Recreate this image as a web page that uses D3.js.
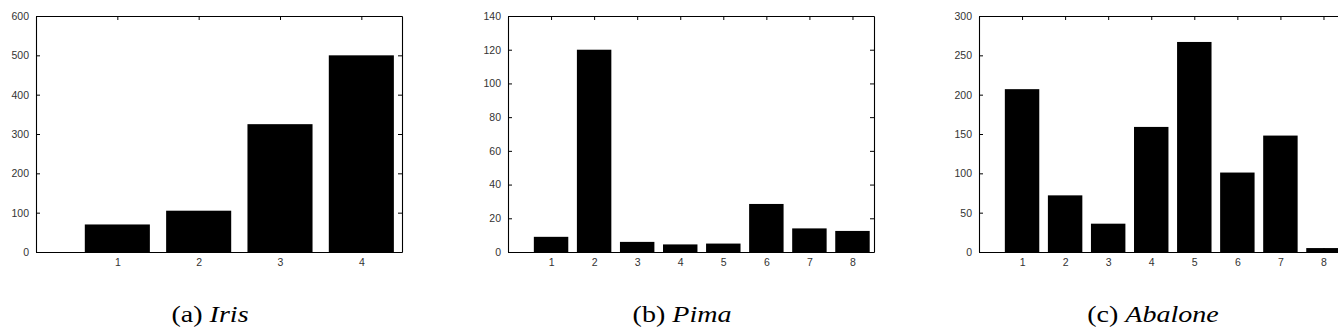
<!DOCTYPE html>
<html>
<head>
<meta charset="utf-8">
<script src="https://cdn.jsdelivr.net/npm/d3@7"></script>
<style>
  html, body { margin: 0; padding: 0; background: #fff; }
  svg { display: block; }
</style>
</head>
<body>
<svg id="chart" width="1338" height="327"></svg>
<script>
// ---- data ----
const irisCategories = [1, 2, 3, 4];
const irisValues = [70, 105, 325, 500];
const irisYTicks = [0, 100, 200, 300, 400, 500, 600];

const pimaCategories = [1, 2, 3, 4, 5, 6, 7, 8];
const pimaValues = [9, 120, 6, 4.5, 5, 28.5, 14, 12.5];
const pimaYTicks = [0, 20, 40, 60, 80, 100, 120, 140];

const abaloneCategories = [1, 2, 3, 4, 5, 6, 7, 8];
const abaloneValues = [207, 72, 36, 159, 267, 101, 148, 5];
const abaloneYTicks = [0, 50, 100, 150, 200, 250, 300];

const captionLetters = ["(a)", "(b)", "(c)"];
const captionNames = ["Iris", "Pima", "Abalone"];

// ---- layout ----
const panels = [
  { left: 36,  cats: irisCategories,    vals: irisValues,    yTicks: irisYTicks },
  { left: 508, cats: pimaCategories,    vals: pimaValues,    yTicks: pimaYTicks },
  { left: 979, cats: abaloneCategories, vals: abaloneValues, yTicks: abaloneYTicks }
];
const plotW = 366, plotTop = 16, plotBottom = 252;
const svg = d3.select("#chart");

panels.forEach((p, i) => {
  const n = p.cats.length;
  const x = d3.scaleLinear().domain([0, n + 0.5]).range([p.left, p.left + plotW]);
  const y = d3.scaleLinear().domain([0, d3.max(p.yTicks)]).range([plotBottom, plotTop]);
  const g = svg.append("g");

  // bars
  const bw = x(0.8) - x(0);
  g.selectAll("rect.bar").data(p.vals).join("rect")
    .attr("class", "bar")
    .attr("x", (d, j) => x(p.cats[j] - 0.4))
    .attr("y", d => y(d))
    .attr("width", bw)
    .attr("height", d => y(0) - y(d))
    .attr("fill", "#000");

  const styleAxis = sel => {
    sel.selectAll("path.domain").attr("stroke", "#000").attr("stroke-width", 1.1);
    sel.selectAll(".tick line").attr("stroke", "#000");
    sel.selectAll("text").attr("fill", "#333")
      .style("font-family", "'Liberation Sans', Arial, sans-serif")
      .style("font-size", "10.5px");
  };

  g.append("g").attr("transform", `translate(0,${plotBottom})`)
    .call(d3.axisBottom(x).tickValues(p.cats).tickFormat(d3.format("d"))
      .tickSizeInner(-4).tickSizeOuter(0).tickPadding(7))
    .call(styleAxis);
  g.append("g").attr("transform", `translate(0,${plotTop})`)
    .call(d3.axisTop(x).tickValues(p.cats).tickFormat("")
      .tickSizeInner(-4).tickSizeOuter(0))
    .call(styleAxis);
  g.append("g").attr("transform", `translate(${p.left},0)`)
    .call(d3.axisLeft(y).tickValues(p.yTicks).tickFormat(d3.format("d"))
      .tickSizeInner(-4).tickSizeOuter(0).tickPadding(7))
    .call(styleAxis);
  g.append("g").attr("transform", `translate(${p.left + plotW},0)`)
    .call(d3.axisRight(y).tickValues(p.yTicks).tickFormat("")
      .tickSizeInner(-4).tickSizeOuter(0))
    .call(styleAxis);

  // caption
  const t = svg.append("text")
    .attr("transform", `translate(${p.left + 174},322) scale(1.22,1)`)
    .attr("text-anchor", "middle")
    .style("font-family", "'Liberation Serif', 'Times New Roman', serif")
    .style("font-size", "23px")
    .attr("fill", "#000");
  t.append("tspan").text(captionLetters[i] + " ");
  t.append("tspan").style("font-style", "italic").text(captionNames[i]);
});
</script>
</body>
</html>
